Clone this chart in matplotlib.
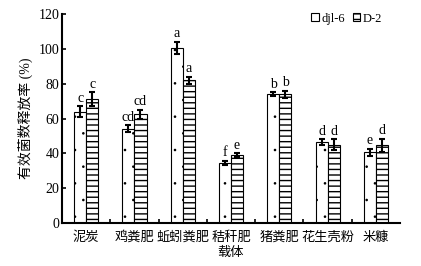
import numpy as np
import matplotlib.pyplot as plt
import matplotlib.hatch

# smaller dots for the '.' hatch
matplotlib.hatch.SmallFilledCircles.size = 0.035

plt.rcParams['font.family'] = ['Liberation Serif', 'Noto Sans CJK SC']
plt.rcParams['hatch.linewidth'] = 1.0

carriers = ['泥炭', '鸡粪肥', '蚯蚓粪肥', '秸秆肥', '猪粪肥', '花生壳粉', '米糠']
djl6 = [64, 54, 100.5, 34.5, 74, 46.5, 40.5]
djl6_err = [3, 2, 3.5, 1, 1, 1.5, 2]
d2 = [71, 62.5, 82, 39, 74, 45, 44.5]
d2_err = [4, 2.5, 2, 1, 2, 3, 4]
djl6_sig = ['c', 'cd', 'a', 'f', 'b', 'd', 'e']
d2_sig = ['c', 'cd', 'a', 'e', 'b', 'd', 'd']

fig = plt.figure(figsize=(4.21, 2.66), dpi=100)
ax = fig.add_axes([62/421, 1-223/266, 338/421, 209/266])

x = np.arange(len(carriers))
w = 0.25
ekw = dict(ecolor='black', elinewidth=1.5, capsize=2.5, capthick=1.5)
ax.bar(x - w/2, djl6, w, yerr=djl6_err, color='white', edgecolor='black',
       hatch='.', linewidth=0.8, label='djl-6', error_kw=ekw)
ax.bar(x + w/2, d2, w, yerr=d2_err, color='white', edgecolor='black',
       hatch='---', linewidth=0.8, label='D-2', error_kw=ekw)

for xi, v, e, s in zip(x - w/2, djl6, djl6_err, djl6_sig):
    ax.text(xi, v + e + 1, s, ha='center', va='bottom', fontsize=10)
for xi, v, e, s in zip(x + w/2, d2, d2_err, d2_sig):
    ax.text(xi, v + e + 1, s, ha='center', va='bottom', fontsize=10)

ax.set_xlim(-0.5, len(carriers) - 0.5)
ax.set_ylim(0, 120)
ax.set_yticks(range(0, 121, 20))
ax.set_xticks(x)
ax.set_xticklabels(carriers, fontsize=9.5)
ax.set_xticks(x[:-1] + 0.5, minor=True)
ax.tick_params(axis='x', which='major', length=0, pad=6)
ax.tick_params(axis='x', which='minor', direction='in', length=3, width=1.2)
ax.tick_params(axis='y', direction='in', length=3, width=1.2, labelsize=10, pad=2)
ax.spines['top'].set_visible(False)
ax.spines['right'].set_visible(False)
ax.spines['left'].set_linewidth(1.5)
ax.spines['bottom'].set_linewidth(1.5)
ax.set_ylabel('有效菌数释放率 (%)', fontsize=10, labelpad=4)
ax.set_xlabel('载体', fontsize=9.5, labelpad=2)

ax.legend(loc='upper right', bbox_to_anchor=(0.98, 1.06), ncol=2, frameon=False,
          fontsize=9, handlelength=0.6, handleheight=0.6, handletextpad=0.2,
          columnspacing=0.6)

fig.savefig('out.png', dpi=100)
